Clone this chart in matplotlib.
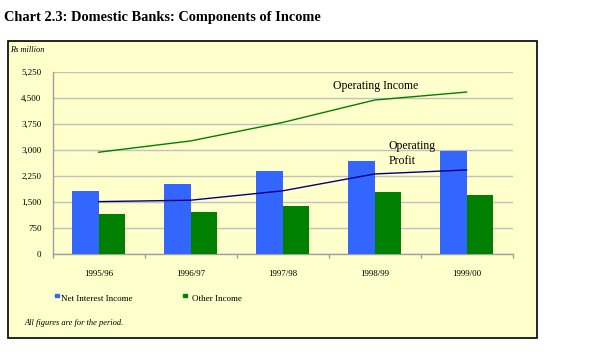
import numpy as np
import matplotlib
matplotlib.use('Agg')
import matplotlib.pyplot as plt
from matplotlib.patches import Rectangle

# data (Rs million)
years = ['1995/96', '1996/97', '1997/98', '1998/99', '1999/00']
net_interest = [1820, 2025, 2400, 2685, 2975]
other_income = [1160, 1220, 1390, 1795, 1705]
operating_income = [2935, 3260, 3790, 4435, 4665]
operating_profit = [1515, 1555, 1825, 2310, 2425]
yticks = [0, 750, 1500, 2250, 3000, 3750, 4500, 5250]

plt.rcParams['font.family'] = ['Liberation Serif', 'DejaVu Serif']

W, H = 614, 359
fig = plt.figure(figsize=(W / 100, H / 100), dpi=100)
fig.patch.set_facecolor('white')

# chart frame
fig.patches.append(Rectangle((8 / W, 1 - 338 / H), (537 - 8) / W, (338 - 41) / H,
                             transform=fig.transFigure, facecolor='#FFFFCC',
                             edgecolor='black', linewidth=1.2, zorder=-5))

fig.text(4 / W, 1 - 17 / H, 'Chart 2.3: Domestic Banks: Components of Income',
         fontsize=10.4, fontweight='bold', va='center', ha='left')

left, right, top, bottom = 52.7, 512.5, 71.7, 254.3
ax = fig.add_axes([left / W, 1 - bottom / H, (right - left) / W, (bottom - top) / H])
ax.set_zorder(2)
ax.set_facecolor('#FFFFCC')

x = np.arange(len(years))
bw = 0.29
ax.bar(x - bw / 2, net_interest, bw, color='#3366FF', zorder=3)
ax.bar(x + bw / 2, other_income, bw, color='#008000', zorder=3)
ax.plot(x, operating_income, color='#008000', lw=1.0, zorder=4)
ax.plot(x, operating_profit, color='#000080', lw=1.0, zorder=4)

ax.set_xlim(-0.5, len(years) - 0.5)
ax.set_ylim(0, 5250)
ax.set_yticks(yticks)
ax.set_yticklabels(['{:,}'.format(v) for v in yticks], fontsize=6.5)
ax.yaxis.grid(True, color='#C0C0C0', lw=1, zorder=0)
ax.set_axisbelow(True)
ax.tick_params(axis='y', length=0, pad=8)

ax.set_xticks(x)
ax.set_xticklabels(years, fontsize=6.5)
ax.set_xticks(np.arange(-0.5, len(years)), minor=True)
ax.tick_params(axis='x', which='major', length=0, pad=11)
ax.tick_params(axis='x', which='minor', length=3, color='#A0A0A0', width=1)

for s in ['top', 'right']:
    ax.spines[s].set_visible(False)
for s in ['left', 'bottom']:
    ax.spines[s].set_color('#A0A0A0')
    ax.spines[s].set_linewidth(1)

ax.text(2.55, 4850, 'Operating Income', fontsize=8.5, va='center', ha='left')
ax.text(3.15, 2900, 'Operating\nProfit', fontsize=8.5, va='center', ha='left',
        linespacing=1.3)

fig.text(10 / W, 1 - 50 / H, 'Rs million', fontsize=6, style='italic', va='center')

# legend
fig.patches.append(Rectangle((55 / W, 1 - 297 / H), 3.5 / W, 3.5 / H,
                             transform=fig.transFigure, color='#3366FF'))
fig.text(61 / W, 1 - 299 / H, 'Net Interest Income', fontsize=6.5, va='center')
fig.patches.append(Rectangle((183 / W, 1 - 297 / H), 3.5 / W, 3.5 / H,
                             transform=fig.transFigure, color='#008000'))
fig.text(192 / W, 1 - 299 / H, 'Other Income', fontsize=6.5, va='center')

fig.text(24 / W, 1 - 323 / H, 'All figures are for the period.', fontsize=6,
         style='italic', va='center')

fig.savefig('out.png', dpi=100)
